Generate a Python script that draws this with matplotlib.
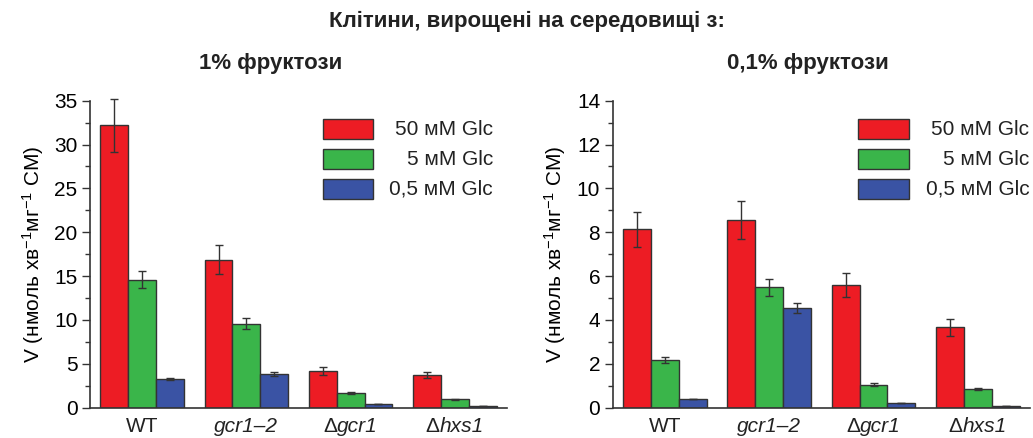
import numpy as np
import matplotlib
matplotlib.use("Agg")
import matplotlib.pyplot as plt
from matplotlib.patches import Rectangle
from matplotlib.offsetbox import TextArea, HPacker, AnnotationBbox

plt.rcParams['font.family'] = ['Liberation Sans', 'DejaVu Sans']
plt.rcParams['mathtext.fontset'] = 'custom'
plt.rcParams['mathtext.rm'] = 'Liberation Sans'
plt.rcParams['mathtext.it'] = 'Liberation Sans:italic'

strains = ['WT', 'gcr1–2', 'gcr1', 'hxs1']
strain_prefix = ['', '', 'Δ', 'Δ']
series = ['50 мМ Glc', '5 мМ Glc', '0,5 мМ Glc']
colors = ['#ed1c24', '#3ab54a', '#3a53a4']

# 1% фруктози
v_1 = [[32.2, 16.85, 4.18, 3.72],
       [14.6, 9.58, 1.71, 0.95],
       [3.27, 3.84, 0.42, 0.19]]
err_1 = [[3.0, 1.65, 0.45, 0.38],
         [1.0, 0.65, 0.10, 0.07],
         [0.15, 0.20, 0.0, 0.0]]

# 0,1% фруктози
v_01 = [[8.13, 8.54, 5.59, 3.66],
        [2.17, 5.49, 1.05, 0.85],
        [0.38, 4.53, 0.20, 0.06]]
err_01 = [[0.81, 0.87, 0.56, 0.38],
          [0.15, 0.39, 0.06, 0.05],
          [0.0, 0.23, 0.0, 0.0]]

ylabel = 'V (нмоль хв$^{-1}$мг$^{-1}$ СМ)'

fig = plt.figure(figsize=(10.33, 4.38), dpi=100)
ax1 = fig.add_axes([0.0871, 0.0692, 0.4037, 0.701])
ax2 = fig.add_axes([0.5931, 0.0692, 0.404, 0.701])

x = np.arange(len(strains))
w = 0.267
txt = dict(fontsize=15, color='#222222')


def draw_panel(ax, vals, errs, ymax, step, leg_x, text_x):
    for i in range(3):
        ax.bar(x + (i - 1) * w, vals[i], w, color=colors[i],
               edgecolor='#333333', linewidth=1.0, zorder=2)
        eb = ax.errorbar(x + (i - 1) * w, vals[i], yerr=errs[i], fmt='none',
                         ecolor='#333333', elinewidth=1.0, capsize=3, capthick=1.0, zorder=3)
        for art in eb.lines[1] + eb.lines[2]:
            art.set_clip_on(False)
    ax.set_xlim(-0.5, 3.5)
    ax.set_ylim(0, ymax)
    ax.set_yticks(np.arange(0, ymax + 0.01, step))
    ax.set_yticks(np.arange(step / 2, ymax, step), minor=True)
    ax.set_xticks(x)
    ax.set_xticklabels([])

    # strain names: gene names in italics, Δ upright
    for xi, pre, name in zip(x, strain_prefix, strains):
        parts = []
        if pre:
            parts.append(TextArea(pre, textprops=txt))
        style = 'normal' if name == 'WT' else 'italic'
        parts.append(TextArea(name, textprops=dict(txt, fontstyle=style)))
        box = HPacker(children=parts, align='baseline', pad=0, sep=0)
        ab = AnnotationBbox(box, (xi, 0), xycoords=('data', 'axes fraction'),
                            xybox=(0, -7), boxcoords='offset points',
                            box_alignment=(0.5, 1), frameon=False, pad=0)
        ax.add_artist(ab)

    ax.tick_params(axis='x', length=0)
    ax.tick_params(axis='y', which='major', length=6, width=1, labelsize=15, pad=3, color='#333333')
    ax.tick_params(axis='y', which='minor', length=3.5, width=1, color='#333333')
    for s in ['top', 'right']:
        ax.spines[s].set_visible(False)
    for s in ['left', 'bottom']:
        ax.spines[s].set_linewidth(1.2)
        ax.spines[s].set_color('#333333')
    ax.set_ylabel(ylabel, fontsize=15, labelpad=6)

    # legend with text aligned to the right
    for i, lab in enumerate(series):
        yc = 0.907 - i * 0.0975
        ax.add_patch(Rectangle((leg_x, yc - 0.0325), 0.12, 0.065, transform=ax.transAxes,
                               facecolor=colors[i], edgecolor='#333333', linewidth=1.0,
                               clip_on=False))
        ax.text(text_x, yc, lab, transform=ax.transAxes, ha='right', va='center', **txt)


draw_panel(ax1, v_1, err_1, 35, 5, 0.559, 0.966)
draw_panel(ax2, v_01, err_01, 14, 2, 0.589, 0.998)

head = dict(txt, fontsize=16, fontweight='bold')
fig.text(0.51, 0.952, 'Клітини, вирощені на середовищі з:', ha='center', va='center', **head)
fig.text(0.262, 0.855, '1% фруктози', ha='center', va='center', **head)
fig.text(0.782, 0.855, '0,1% фруктози', ha='center', va='center', **head)

fig.savefig('out.png', dpi=100)
